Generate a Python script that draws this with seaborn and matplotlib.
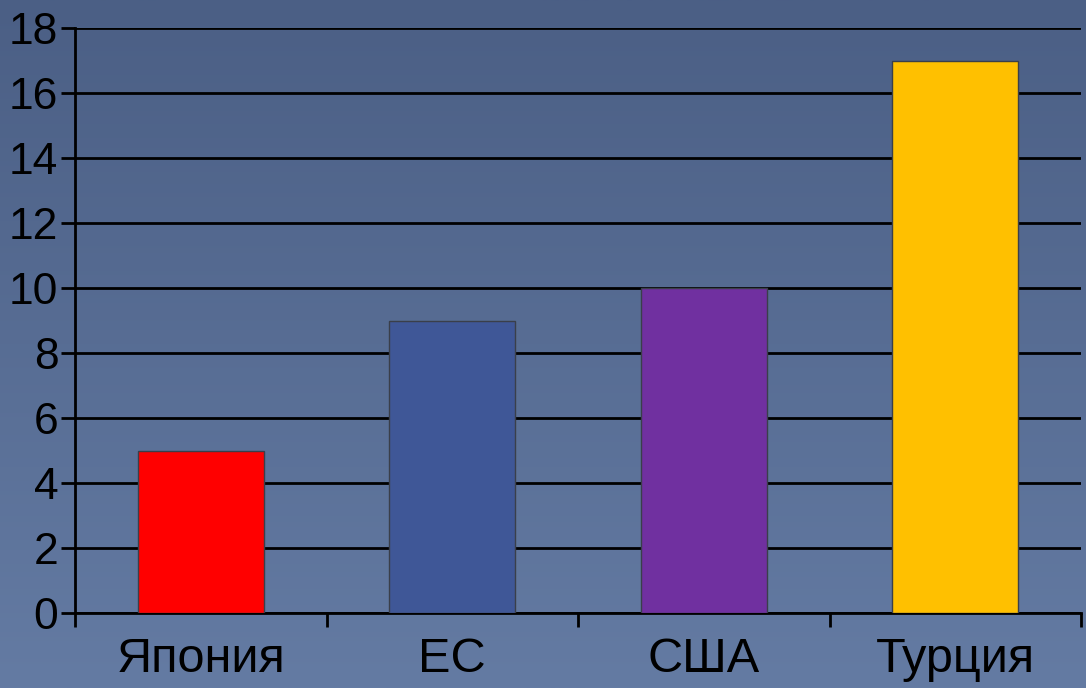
import matplotlib
matplotlib.use("Agg")
import matplotlib.pyplot as plt
import numpy as np
import pandas as pd
import seaborn as sns
from matplotlib.colors import LinearSegmentedColormap

countries = ["Япония", "ЕС", "США", "Турция"]
values = [5, 9, 10, 17]
bar_colors = ["#ff0000", "#3f5797", "#7030a0", "#ffc000"]
y_ticks = list(range(0, 19, 2))

sns.set_theme(style="white")
plt.rcParams["font.family"] = ["Liberation Sans", "DejaVu Sans"]

fig = plt.figure(figsize=(10.86, 6.88), dpi=100)

# background gradient
bg = fig.add_axes([0, 0, 1, 1], zorder=0)
grad = LinearSegmentedColormap.from_list("bg", ["#4b5f85", "#647ba3"])
bg.imshow(np.linspace(0, 1, 256).reshape(-1, 1), aspect="auto", cmap=grad,
          extent=[0, 1, 0, 1], origin="upper")
bg.axis("off")

ax = fig.add_axes([75 / 1086, 75 / 688, 1006 / 1086, 585 / 688], zorder=1)
ax.patch.set_alpha(0)

df = pd.DataFrame({"country": countries, "value": values})
sns.barplot(data=df, x="country", y="value", hue="country",
            palette=bar_colors, width=0.5, edgecolor="#3a3f4a",
            linewidth=1, saturation=1, legend=False, ax=ax, zorder=3)

ax.set_xlim(-0.5, 3.5)
ax.set_ylim(0, 18)
ax.set_yticks(y_ticks)
ax.yaxis.grid(True, color="black", linewidth=2)
ax.set_axisbelow(True)
ax.set_xlabel("")
ax.set_ylabel("")

for s in ["top", "right"]:
    ax.spines[s].set_visible(False)
for s in ["left", "bottom"]:
    ax.spines[s].set_color("black")
    ax.spines[s].set_linewidth(2)

ax.tick_params(axis="y", length=10, width=2, color="black", labelsize=32,
               labelcolor="black", pad=2, left=True)
ax.tick_params(axis="x", which="major", length=0, labelsize=35,
               labelcolor="black", pad=17)
ax.set_xticks([-0.5, 0.5, 1.5, 2.5, 3.5], minor=True)
ax.tick_params(axis="x", which="minor", length=10, width=2, color="black",
               bottom=True)

fig.savefig("out.png", dpi=100)
